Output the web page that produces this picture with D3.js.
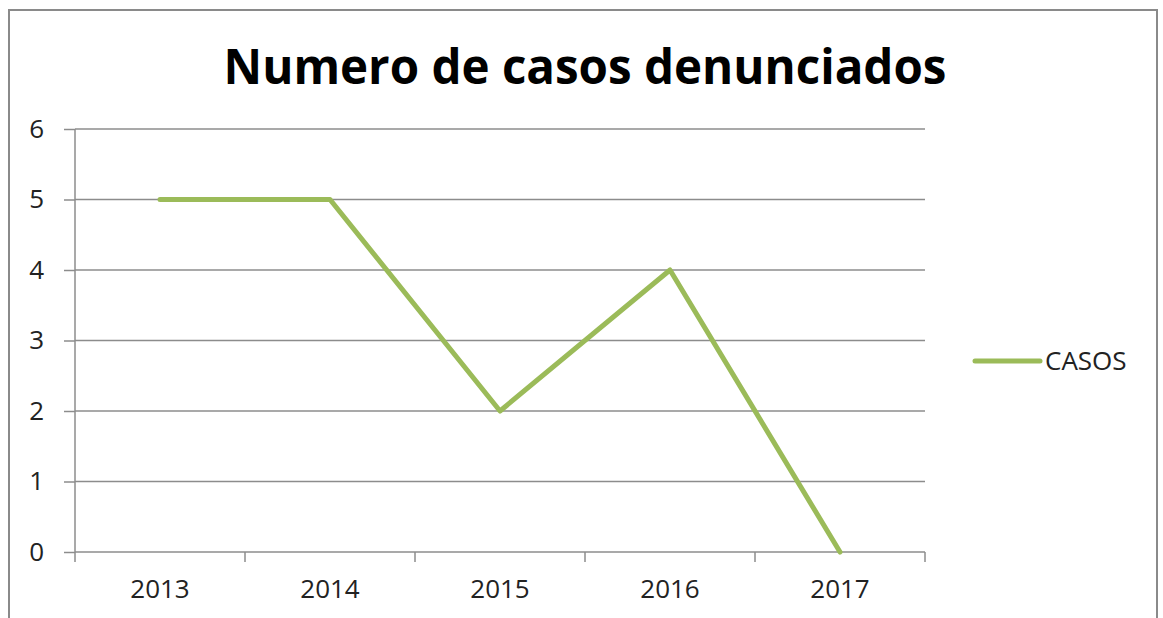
<!DOCTYPE html>
<html>
<head>
<meta charset="utf-8">
<script src="https://cdn.jsdelivr.net/npm/d3@7.9.0/dist/d3.min.js"></script>
<style>
  body { margin: 0; background: #fff; overflow: hidden; }
  svg { display: block; }
</style>
</head>
<body>
<div id="chart"></div>
<script>
// ---------- DATA ----------
const years = ["2013", "2014", "2015", "2016", "2017"];
const casos = [5, 5, 2, 4, 0];
const yTicks = [0, 1, 2, 3, 4, 5, 6];
const seriesName = "CASOS";
const titleText = "Numero de casos denunciados";

// ---------- LAYOUT ----------
const width = 1163, height = 618;
const plotLeft = 75, plotRight = 925, plotTop = 129, plotBottom = 552;
const font = "'Open Sans', 'Noto Sans', sans-serif";
const labelSize = 26;
const green = "#9bbb59";
const gridColor = "#8c8c8c";

const svg = d3.select("#chart").append("svg")
  .attr("width", width).attr("height", height);

// FRAME
svg.append("rect")
  .attr("x", 9).attr("y", 10)
  .attr("width", 1148).attr("height", 640)
  .attr("fill", "none").attr("stroke", "#8a8a8a").attr("stroke-width", 2);

// SCALES
const x = d3.scaleBand().domain(years).range([plotLeft, plotRight]);
const y = d3.scaleLinear().domain([0, 6]).range([plotBottom, plotTop]);

// Y AXIS
const yAxis = d3.axisLeft(y).tickValues(yTicks).tickFormat(d3.format("d"))
  .tickSize(11).tickPadding(20);
svg.append("g")
  .attr("transform", `translate(${plotLeft},0)`)
  .call(yAxis)
  .call(g => g.select(".domain").remove())
  .call(g => g.selectAll(".tick line").attr("stroke", gridColor).attr("stroke-width", 1.5))
  .call(g => g.selectAll(".tick text")
    .attr("font-family", font).attr("font-size", labelSize).attr("fill", "#222"));

// GRIDLINES
svg.append("g")
  .selectAll("line")
  .data(yTicks)
  .join("line")
  .attr("x1", plotLeft).attr("x2", plotRight)
  .attr("y1", d => y(d)).attr("y2", d => y(d))
  .attr("stroke", gridColor).attr("stroke-width", 1.5);

// vertical axis line
svg.append("line")
  .attr("x1", plotLeft).attr("x2", plotLeft).attr("y1", plotTop).attr("y2", plotBottom)
  .attr("stroke", gridColor).attr("stroke-width", 1.5);

// X AXIS TICKS (category boundaries)
const bounds = years.map(d => x(d)).concat([plotRight]);
svg.append("g")
  .selectAll("line")
  .data(bounds)
  .join("line")
  .attr("x1", d => d).attr("x2", d => d)
  .attr("y1", plotBottom).attr("y2", plotBottom + 10)
  .attr("stroke", gridColor).attr("stroke-width", 1.5);

svg.append("g")
  .selectAll("text")
  .data(years)
  .join("text")
  .attr("x", d => x(d) + x.bandwidth() / 2)
  .attr("y", 598)
  .attr("text-anchor", "middle")
  .attr("font-family", font).attr("font-size", labelSize).attr("fill", "#222")
  .text(d => d);

// LINE
const line = d3.line()
  .x((d, i) => x(years[i]) + x.bandwidth() / 2)
  .y(d => y(d));

svg.append("path")
  .datum(casos)
  .attr("d", line)
  .attr("fill", "none")
  .attr("stroke", green)
  .attr("stroke-width", 5)
  .attr("stroke-linejoin", "round")
  .attr("stroke-linecap", "round");

// LEGEND
svg.append("line")
  .attr("x1", 975).attr("x2", 1040).attr("y1", 361).attr("y2", 361)
  .attr("stroke", green).attr("stroke-width", 5).attr("stroke-linecap", "round");
svg.append("text")
  .attr("x", 1045).attr("y", 370)
  .attr("font-family", font).attr("font-size", labelSize).attr("fill", "#222")
  .text(seriesName);

// TITLE
const title = svg.append("text")
  .attr("x", 585).attr("y", 84)
  .attr("text-anchor", "middle")
  .attr("font-family", font).attr("font-weight", "bold")
  .attr("font-size", 44).attr("fill", "#000")
  .text(titleText);
const tw = title.node().getComputedTextLength();
title.attr("font-size", 44 * 723 / tw);
</script>
</body>
</html>
